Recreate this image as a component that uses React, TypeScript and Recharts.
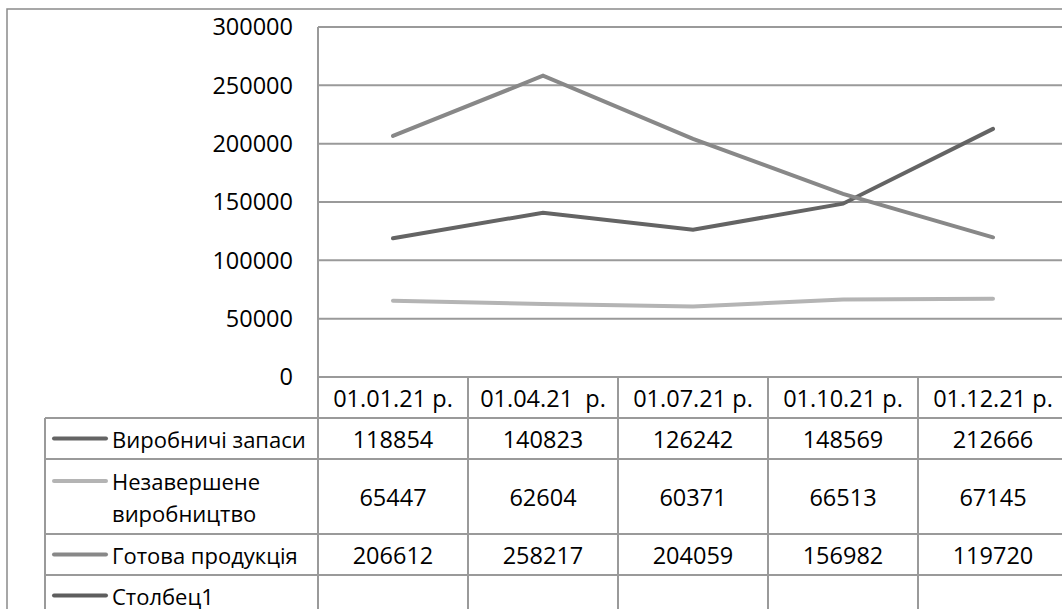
import { LineChart, Line, XAxis, YAxis, CartesianGrid } from 'recharts';

const dates = ['01.01.21 р.', '01.04.21  р.', '01.07.21 р.', '01.10.21 р.', '01.12.21 р.'];
const vyrobnychiZapasy = [118854, 140823, 126242, 148569, 212666];
const nezaversheneVyrobnytstvo = [65447, 62604, 60371, 66513, 67145];
const gotovaProdukciya = [206612, 258217, 204059, 156982, 119720];
const stolbets1: (number | null)[] = [null, null, null, null, null];
const yTicks = [0, 50000, 100000, 150000, 200000, 250000, 300000];

const FONT = '"Open Sans", sans-serif';
const FONT_SIZE = 22;
const NUM_SIZE = 23.5;
const GRID = '#9a9a9a';

// layout (px)
const PLOT_LEFT = 318;
const PLOT_TOP = 27;
const PLOT_BOTTOM = 377;
const COL_W = 150;
const Y_AXIS_W = 60;
const X_AXIS_H = 41;
const CHART_W = 1080;
const CHART_H = 609;

const series = [
  { key: 's1', name: ['Виробничі запаси'], values: vyrobnychiZapasy, color: '#646464' },
  { key: 's2', name: ['Незавершене', 'виробництво'], values: nezaversheneVyrobnytstvo, color: '#b4b4b4' },
  { key: 's3', name: ['Готова продукція'], values: gotovaProdukciya, color: '#888888' },
  { key: 's4', name: ['Столбец1'], values: stolbets1, color: '#5e5e5e' },
];

// table rows: top and bottom edges
const rowEdges = [418, 459, 534, 575, 640];

const data = dates.map((date, i) => {
  const row: Record<string, string | number | null> = { date };
  series.forEach((s) => {
    row[s.key] = s.values[i];
  });
  return row;
});

const DateTick = ({ x, y, payload }: { x?: number; y?: number; payload?: { value: string } }) => (
  <text
    x={x}
    y={(y ?? 0) + 1}
    dy={20}
    textAnchor="middle"
    dominantBaseline="central"
    fontSize={NUM_SIZE}
    fontFamily={FONT}
    fill="#000"
    style={{ whiteSpace: 'pre' }}
  >
    {payload?.value}
  </text>
);

function DataTable() {
  const colX = dates.map((_, i) => PLOT_LEFT + i * COL_W);
  return (
    <svg
      width={1062}
      height={609}
      style={{ position: 'absolute', left: 0, top: 0, pointerEvents: 'none' }}
    >
      {/* рамка діаграми */}
      <rect x={7} y={9} width={1200} height={800} fill="none" stroke="#8a8a8a" strokeWidth={1.5} />

      {/* горизонтальні лінії таблиці */}
      {rowEdges.slice(0, 4).map((y) => (
        <line key={y} x1={45} x2={1100} y1={y} y2={y} stroke={GRID} strokeWidth={2} />
      ))}
      {/* вертикальні лінії */}
      <line x1={45} x2={45} y1={418} y2={640} stroke={GRID} strokeWidth={2} />
      <line x1={PLOT_LEFT} x2={PLOT_LEFT} y1={PLOT_BOTTOM} y2={640} stroke={GRID} strokeWidth={2} />
      {colX.slice(1).map((x) => (
        <line key={x} x1={x} x2={x} y1={PLOT_BOTTOM} y2={640} stroke={GRID} strokeWidth={2} />
      ))}

      {series.map((s, r) => {
        const top = rowEdges[r];
        const bottom = r === 3 ? 616 : rowEdges[r + 1];
        const mid = (top + bottom) / 2;
        const firstLine = s.name.length > 1 ? top + 22 : mid;
        return (
          <g key={s.key}>
            <line
              x1={54}
              x2={106}
              y1={firstLine}
              y2={firstLine}
              stroke={s.color}
              strokeWidth={4}
              strokeLinecap="round"
            />
            {s.name.map((t, k) => (
              <text
                key={k}
                x={112}
                y={firstLine + k * 32}
                dominantBaseline="central"
                fontSize={FONT_SIZE}
                fontFamily={FONT}
                fill="#000"
              >
                {t}
              </text>
            ))}
            {s.values.map((v, i) =>
              v === null ? null : (
                <text
                  key={i}
                  x={colX[i] + COL_W / 2}
                  y={mid}
                  textAnchor="middle"
                  dominantBaseline="central"
                  fontSize={NUM_SIZE}
                  fontFamily={FONT}
                  fill="#000"
                >
                  {v}
                </text>
              )
            )}
          </g>
        );
      })}
    </svg>
  );
}

export default function App() {
  return (
    <div
      style={{
        position: 'absolute',
        left: 0,
        top: 0,
        width: 1062,
        height: 609,
        overflow: 'hidden',
        background: '#fff',
      }}
    >
      <LineChart
        width={CHART_W}
        height={CHART_H}
        data={data}
        margin={{
          top: PLOT_TOP,
          right: CHART_W - (PLOT_LEFT + COL_W * dates.length),
          left: PLOT_LEFT - Y_AXIS_W,
          bottom: CHART_H - PLOT_BOTTOM - X_AXIS_H,
        }}
      >
        <CartesianGrid vertical={false} stroke={GRID} strokeWidth={2} />
        <XAxis
          dataKey="date"
          height={X_AXIS_H}
          padding={{ left: COL_W / 2, right: COL_W / 2 }}
          axisLine={{ stroke: GRID, strokeWidth: 2 }}
          tickLine={false}
          tickSize={0}
          tickMargin={0}
          interval={0}
          tick={<DateTick />}
        />
        <YAxis
          width={Y_AXIS_W}
          domain={[0, 300000]}
          ticks={yTicks}
          interval={0}
          axisLine={{ stroke: GRID, strokeWidth: 2 }}
          tickLine={false}
          tickSize={0}
          tickMargin={25}
          tick={{ fontSize: NUM_SIZE, fontFamily: FONT, fill: '#000' }}
        />
        {series.map((s) => (
          <Line
            key={s.key}
            dataKey={s.key}
            name={s.name.join(' ')}
            type="linear"
            stroke={s.color}
            strokeWidth={4}
            strokeLinecap="round"
            dot={false}
            activeDot={false}
            isAnimationActive={false}
          />
        ))}
      </LineChart>
      <DataTable />
    </div>
  );
}
